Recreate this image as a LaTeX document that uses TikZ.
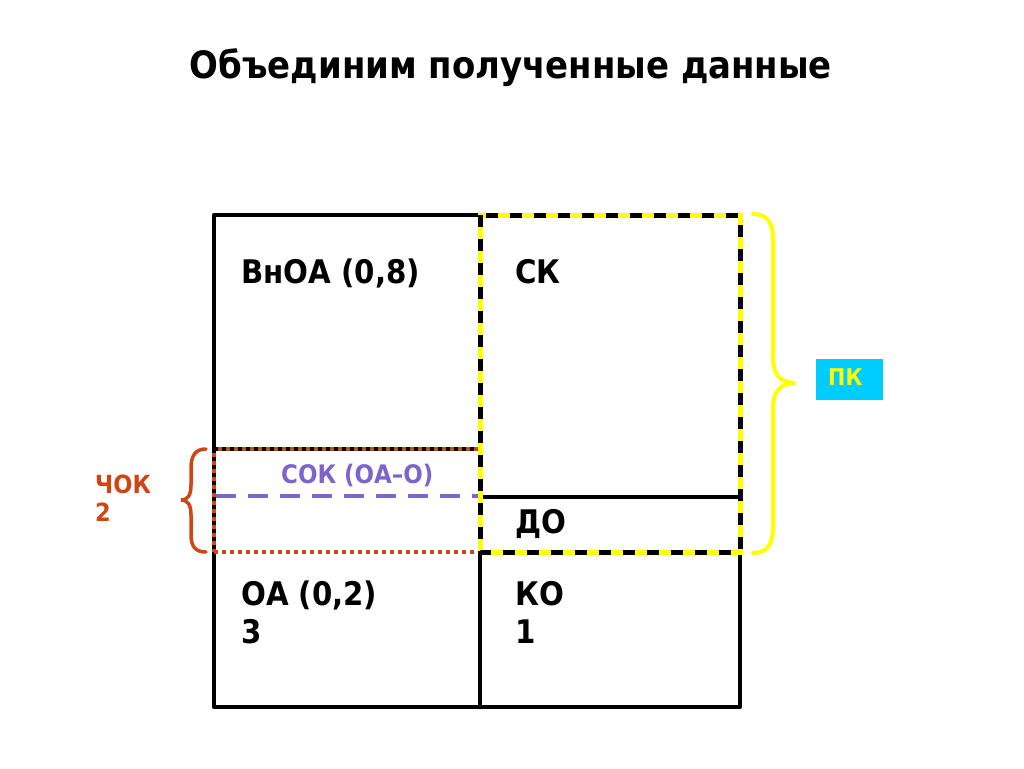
\documentclass[tikz,border=0pt]{standalone}
\usepackage{fontspec}
\setmainfont{DejaVu Sans}
\newfontfamily\medfont{DejaVu Sans Condensed}
\definecolor{chok}{RGB}{205,70,20}
\definecolor{sok}{RGB}{125,100,205}
\definecolor{pkbg}{RGB}{0,204,255}
\definecolor{ylw}{RGB}{255,255,0}
\tikzset{
  frame/.style={line width=4.5pt, line cap=round, line join=round},
  lbl/.style={anchor=base west, inner sep=0pt, font=\medfont\bfseries\fontsize{32.5}{38}\selectfont, align=left},
  ybase/.style={ylw, line width=5pt},
  ydash/.style={black, line width=5pt, dash pattern=on 12pt off 12pt},
}
\begin{document}
\begin{tikzpicture}[x=1pt,y=-1pt]
\useasboundingbox (0,0) rectangle (1024,768);
% title
\node[anchor=base, inner sep=0pt, font=\medfont\bfseries\fontsize{37.7}{44}\selectfont] (title) at (511,78) {Объединим полученные данные};
% outer frame
\draw[frame] (214,215) rectangle (740,707);
\draw[frame] (480,215) -- (480,707);
\draw[frame] (480,497) -- (740,497);
% red dotted rectangle
\draw[line width=4.5pt, white] (216.5,449) -- (477.5,449);
\draw[line width=4pt, black, dash pattern=on 4pt off 4pt] (214,449) -- (480,449);
\draw[line width=4pt, chok, dash pattern=on 4pt off 4pt, dash phase=4pt] (214,449) -- (480,449);
\draw[line width=4pt, chok, dash pattern=on 4pt off 4pt, dash phase=4pt] (214,449) -- (214,552);
\draw[line width=4pt, chok, dash pattern=on 4pt off 4pt] (214,552) -- (480,552);
% purple dashed
\draw[line width=4pt, sok, dash pattern=on 20pt off 12pt] (216,496) -- (478,496);
% yellow dashed rectangle
\draw[ybase] (480,215) rectangle (740,552);
\draw[ydash] (480,215) rectangle (740,552);
% braces
\draw[ylw, line width=4pt, line cap=round] (753,214) .. controls (767,214) and (773,222) .. (773,240) -- (773,358) .. controls (773,375) and (781,383) .. (795,383) .. controls (781,383) and (773,391) .. (773,408) -- (773,527) .. controls (773,545) and (767,553) .. (753,553);
\draw[chok, line width=3.5pt, line cap=round] (206,449) .. controls (196,449) and (191,455) .. (191,468) -- (191,485) .. controls (191,495) and (188,500) .. (181,500) .. controls (188,500) and (191,505) .. (191,515) -- (191,535) .. controls (191,547) and (196,552) .. (206,552);
% labels
\node[lbl] (vnoa) at (241,283) {ВнОА (0,8)};
\node[lbl] (sk) at (515,283) {СК};
\node[lbl] (do) at (515,533) {ДО};
\node[lbl] (oa) at (241,643) {ОА (0,2)\\3};
\node[lbl] (ko) at (515,643) {КО\\1};
\node[anchor=base west, inner sep=0pt, text=sok, font=\medfont\bfseries\fontsize{25.5}{28}\selectfont] (sokl) at (281,483) {СОК (ОА–О)};
\node[anchor=base west, inner sep=0pt, text=chok, align=left, font=\medfont\bfseries\fontsize{25}{28}\selectfont] (chokl) at (95,521) {ЧОК\\2};
\fill[pkbg] (816,359) rectangle (883,400);
\node[anchor=base west, inner sep=0pt, text=ylw, font=\medfont\bfseries\fontsize{23}{28}\selectfont] (pk) at (828,385) {ПК};
\end{tikzpicture}
\end{document}
